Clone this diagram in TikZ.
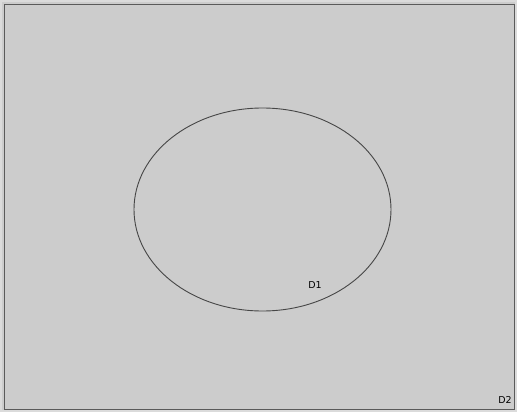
\documentclass[tikz,border=0pt]{standalone}
\usepackage{fontspec}
\setmainfont{DejaVu Sans}
\definecolor{bg}{RGB}{204,204,204}
\definecolor{frame}{RGB}{90,90,90}
\definecolor{edge}{RGB}{70,70,70}
\tikzset{lab/.style={font=\fontsize{9.5}{11}\selectfont, text=black, inner sep=0pt}}
\begin{document}
\begin{tikzpicture}[x=1pt,y=-1pt]
\useasboundingbox (0,0) rectangle (517,412);
\fill[bg!70!white] (0,0) rectangle (517,412);
\fill[bg] (2,2) rectangle (515,410);
\draw[frame, line width=1pt] (4.5,4.5) rectangle (514.5,409.5);
\draw[edge, line width=0.9pt] (262.5,209.5) ellipse [x radius=128.5, y radius=101.5];
\node[lab] (d1) at (315,285) {D1};
\node[lab] (d2) at (505,400) {D2};
\end{tikzpicture}
\end{document}
